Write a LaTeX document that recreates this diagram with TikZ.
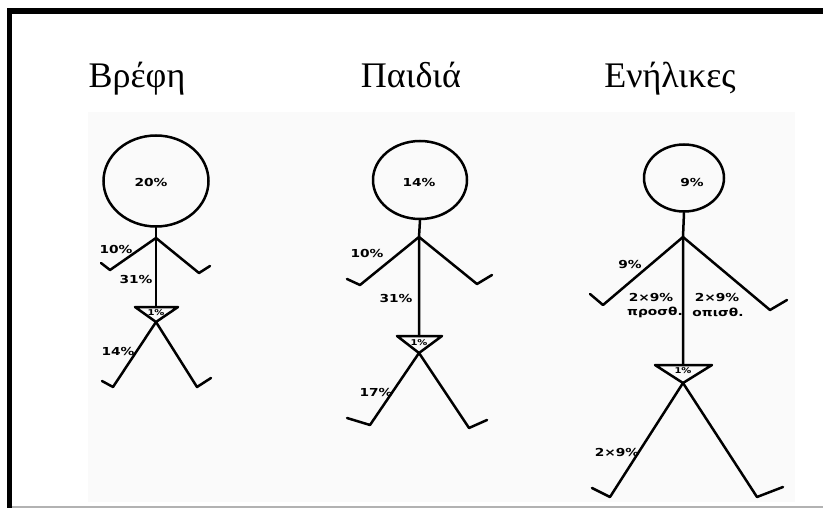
\documentclass[tikz,border=0pt]{standalone}
\usepackage{fontspec}
\usetikzlibrary{shapes.geometric}
\setmainfont{Liberation Serif}
\newfontfamily\lblfont[FakeStretch=1.25]{DejaVu Sans}
\begin{document}
\begin{tikzpicture}[x=1pt,y=-1pt,
  limb/.style={line width=2.5pt, line cap=round, line join=round},
  head/.style={draw, ellipse, line width=2.5pt, inner sep=0pt},
  title/.style={font=\fontsize{36}{38}\selectfont, anchor=base},
  pct/.style={font=\lblfont\bfseries\fontsize{11}{12}\selectfont, inner sep=0pt},
  tiny/.style={font=\lblfont\bfseries\fontsize{8}{9}\selectfont, inner sep=0pt},
]
\useasboundingbox (0,0) rectangle (823,508);
\fill[white] (0,0) rectangle (823,508);
\fill[black!2] (88,112) rectangle (795,502);
% frame
\fill[black] (7,8) rectangle (823,14);
\fill[black] (7,8) rectangle (12,508);
\draw[black!30, line width=1.5pt] (12,507) -- (823,507);

% column titles
\node[title] (t1) at (137,88) {Βρέφη};
\node[title] (t2) at (411,88) {Παιδιά};
\node[title] (t3) at (670,88) {Ενήλικες};

% ---------- infant ----------
\node[head, minimum width=105pt, minimum height=91pt] (h1) at (156,181) {};
\node[pct] (p1) at (151,182) {20\%};
\coordinate (s1) at (156,238);
\coordinate (la1) at (110,270); \coordinate (lh1) at (101,263);
\coordinate (ra1) at (199,273); \coordinate (rh1) at (210,266);
\coordinate (w1) at (156,307);
\coordinate (tl1) at (135,307); \coordinate (tr1) at (178,307);
\coordinate (ap1) at (156,322);
\coordinate (ll1) at (113,387); \coordinate (lf1) at (102,381);
\coordinate (rl1) at (197,387); \coordinate (rf1) at (211,378);
\draw[limb] (h1.south) -- (s1) -- (w1);
\draw[limb] (lh1) -- (la1) -- (s1) -- (ra1) -- (rh1);
\draw[limb] (tl1) -- (tr1) -- (ap1) -- cycle;
\draw[limb] (lf1) -- (ll1) -- (ap1) -- (rl1) -- (rf1);
\node[pct] (a1) at (116,249) {10\%};
\node[pct] (b1) at (136,279) {31\%};
\node[pct] (c1) at (118,351) {14\%};
\node[tiny] (g1) at (156,313) {1\%};

% ---------- child ----------
\node[head, minimum width=94pt, minimum height=78pt] (h2) at (420,180) {};
\node[pct] (p2) at (419,182) {14\%};
\coordinate (s2) at (419,237);
\coordinate (la2) at (360,285); \coordinate (lh2) at (347,279);
\coordinate (ra2) at (477,284); \coordinate (rh2) at (492,275);
\coordinate (w2) at (419,336);
\coordinate (tl2) at (397,336); \coordinate (tr2) at (442,336);
\coordinate (ap2) at (419,353);
\coordinate (ll2) at (370,425); \coordinate (lf2) at (347,418);
\coordinate (rl2) at (469,428); \coordinate (rf2) at (487,420);
\draw[limb] (h2.south) -- (s2) -- (w2);
\draw[limb] (lh2) -- (la2) -- (s2) -- (ra2) -- (rh2);
\draw[limb] (tl2) -- (tr2) -- (ap2) -- cycle;
\draw[limb] (lf2) -- (ll2) -- (ap2) -- (rl2) -- (rf2);
\node[pct] (a2) at (367,253) {10\%};
\node[pct] (b2) at (396,298) {31\%};
\node[pct] (c2) at (376,392) {17\%};
\node[tiny] (g2) at (419,343) {1\%};

% ---------- adult ----------
\node[head, minimum width=80pt, minimum height=67pt] (h3) at (684,178) {};
\node[pct] (p3) at (692,182) {9\%};
\coordinate (s3) at (683,237);
\coordinate (la3) at (603,305); \coordinate (lh3) at (590,294);
\coordinate (ra3) at (770,310); \coordinate (rh3) at (787,300);
\coordinate (w3) at (683,365);
\coordinate (tl3) at (655,365); \coordinate (tr3) at (712,365);
\coordinate (ap3) at (683,383);
\coordinate (ll3) at (610,497); \coordinate (lf3) at (592,488);
\coordinate (rl3) at (757,497); \coordinate (rf3) at (783,487);
\draw[limb] (h3.south) -- (s3) -- (w3);
\draw[limb] (lh3) -- (la3) -- (s3) -- (ra3) -- (rh3);
\draw[limb] (tl3) -- (tr3) -- (ap3) -- cycle;
\draw[limb] (lf3) -- (ll3) -- (ap3) -- (rl3) -- (rf3);
\node[pct] (a3) at (630,264) {9\%};
\node[pct] (b3) at (651,297) {2×9\%};
\node[pct] (d3) at (655,312) {προσθ.};
\node[pct] (e3) at (717,297) {2×9\%};
\node[pct] (f3) at (718,312) {οπισθ.};
\node[pct] (c3) at (617,452) {2×9\%};
\node[tiny] (g3) at (683,371) {1\%};
\end{tikzpicture}
\end{document}
